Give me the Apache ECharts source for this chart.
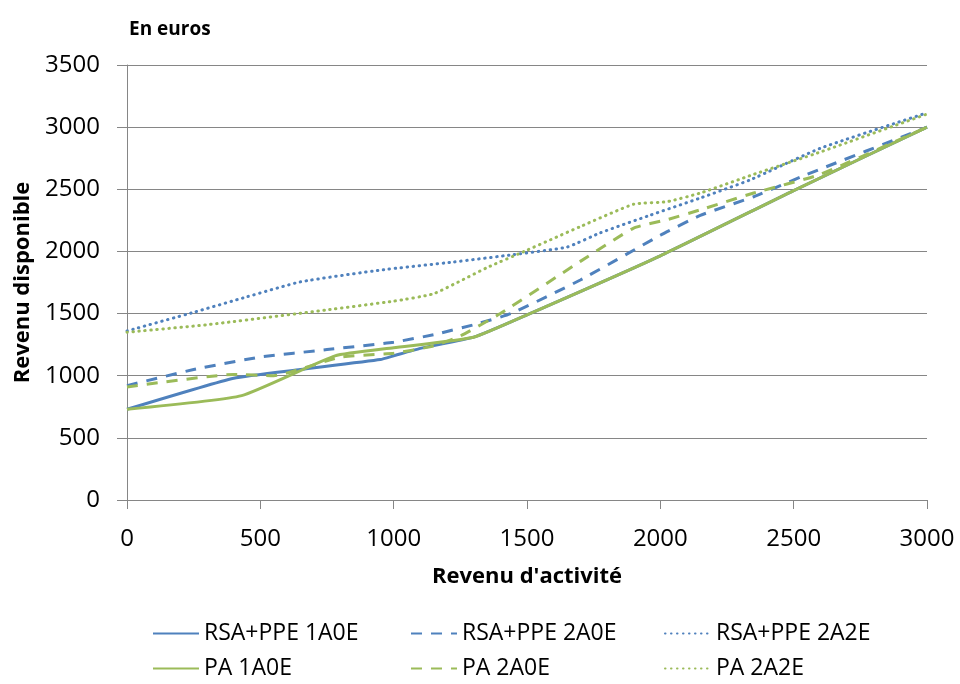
<!DOCTYPE html>
<html><head><meta charset="utf-8">
<script src="https://cdn.jsdelivr.net/npm/echarts@6/dist/echarts.min.js"></script>
<style>html,body{margin:0;padding:0;background:#fff}#c{width:960px;height:684px}</style>
</head><body><div id="c"></div>
<script>
// Series data (x = Revenu d'activité, y = Revenu disponible), in euros
const rsa1A0E_x = [0, 400, 650, 950, 1000, 1100, 1300, 1500, 2000, 2500, 3000];
const rsa1A0E_y = [730, 980, 1050, 1130, 1160, 1220, 1310, 1490, 1965, 2490, 3000];
const pa1A0E_x = [0, 430, 780, 1000, 1300, 1500, 2000, 2500, 3000];
const pa1A0E_y = [730, 840, 1160, 1225, 1310, 1490, 1965, 2490, 3000];
const rsa2A0E_x = [0, 250, 500, 750, 1000, 1150, 1300, 1440, 1700, 2000, 2150, 2350, 2550, 3000];
const rsa2A0E_y = [920, 1050, 1150, 1210, 1270, 1330, 1410, 1500, 1770, 2130, 2290, 2440, 2620, 3000];
const pa2A0E_x = [0, 400, 550, 800, 1000, 1150, 1250, 1400, 1700, 1900, 2025, 2150, 2350, 2600, 3000];
const pa2A0E_y = [910, 1010, 1000, 1150, 1180, 1240, 1320, 1500, 1920, 2188, 2255, 2335, 2470, 2620, 3000];
const rsa2A2E_x = [0, 250, 450, 650, 950, 1225, 1450, 1650, 1775, 1960, 2150, 2336, 2600, 3000];
const rsa2A2E_y = [1360, 1510, 1635, 1755, 1850, 1915, 1975, 2035, 2150, 2290, 2430, 2575, 2830, 3115];
const pa2A2E_x = [0, 300, 750, 1000, 1150, 1350, 1500, 1700, 1900, 2025, 2150, 2350, 2600, 3000];
const pa2A2E_y = [1350, 1410, 1530, 1600, 1660, 1870, 2010, 2200, 2380, 2400, 2470, 2620, 2800, 3105];

const seriesNames = ['RSA+PPE 1A0E', 'RSA+PPE 2A0E', 'RSA+PPE 2A2E', 'PA 1A0E', 'PA 2A0E', 'PA 2A2E'];
const xTitle = "Revenu d'activité";
const yTitle = 'Revenu disponible';
const unitLabel = 'En euros';

const BLUE = '#4F81BD', GREEN = '#9BBB59';
const zip = (xs, ys) => xs.map((x, i) => [x, ys[i]]);
const FONT = '"Open Sans", sans-serif';

function line(name, xs, ys, color, type) {
  return {
    name: name, type: 'line', data: zip(xs, ys), showSymbol: false, symbol: 'none',
    smooth: 0.15, animation: false,
    lineStyle: { color: color, width: 3, type: type, cap: (Array.isArray(type) && type[0] < 4) ? 'round' : 'butt' },
    itemStyle: { color: color }
  };
}
const DASH = [11, 9];
const DOT = [0.5, 5.5];

const chart = echarts.init(document.getElementById('c'), null, { renderer: 'canvas' });
const legendCommon = {
  orient: 'vertical', padding: 0, itemWidth: 46, itemHeight: 14, itemGap: 12,
  itemStyle: { opacity: 0 },
  textStyle: { fontFamily: FONT, fontSize: 23, color: '#000', lineHeight: 22 },
  selectedMode: false
};
chart.setOption({
  animation: false,
  title: { text: unitLabel, left: 124, top: 15, textStyle: { fontFamily: FONT, fontSize: 19, fontWeight: 'bold', color: '#000' } },
  grid: { left: 127, right: 33, top: 65, bottom: 184, containLabel: false },
  legend: [
    Object.assign({}, legendCommon, { left: 152, top: 622, data: [seriesNames[0], seriesNames[3]] }),
    Object.assign({}, legendCommon, { left: 410, top: 622, data: [seriesNames[1], seriesNames[4]] }),
    Object.assign({}, legendCommon, { left: 664, top: 622, data: [seriesNames[2], seriesNames[5]] })
  ],
  xAxis: {
    type: 'value', min: 0, max: 3000, interval: 500,
    name: xTitle, nameLocation: 'middle', nameGap: 66,
    nameTextStyle: { fontFamily: FONT, fontSize: 22, fontWeight: 'bold', color: '#000' },
    axisLine: { show: true, lineStyle: { color: '#868686', width: 1 } },
    axisTick: { show: true, length: 9, lineStyle: { color: '#868686' } },
    axisLabel: { fontFamily: FONT, fontSize: 24, color: '#000', margin: 27, formatter: v => String(v) },
    splitLine: { show: false }
  },
  yAxis: {
    type: 'value', min: 0, max: 3500, interval: 500,
    name: yTitle, nameLocation: 'middle', nameGap: 92,
    nameTextStyle: { fontFamily: FONT, fontSize: 22, fontWeight: 'bold', color: '#000' },
    axisLine: { show: true, lineStyle: { color: '#868686', width: 1 } },
    axisTick: { show: true, length: 10, lineStyle: { color: '#868686' } },
    axisLabel: { fontFamily: FONT, fontSize: 24, color: '#000', margin: 27, formatter: v => String(v) },
    splitLine: { show: true, lineStyle: { color: '#868686', width: 1 } }
  },
  series: [
    line(seriesNames[0], rsa1A0E_x, rsa1A0E_y, BLUE, 'solid'),
    line(seriesNames[1], rsa2A0E_x, rsa2A0E_y, BLUE, DASH),
    line(seriesNames[2], rsa2A2E_x, rsa2A2E_y, BLUE, DOT),
    line(seriesNames[3], pa1A0E_x, pa1A0E_y, GREEN, 'solid'),
    line(seriesNames[4], pa2A0E_x, pa2A0E_y, GREEN, DASH),
    line(seriesNames[5], pa2A2E_x, pa2A2E_y, GREEN, DOT)
  ]
});
</script></body></html>
